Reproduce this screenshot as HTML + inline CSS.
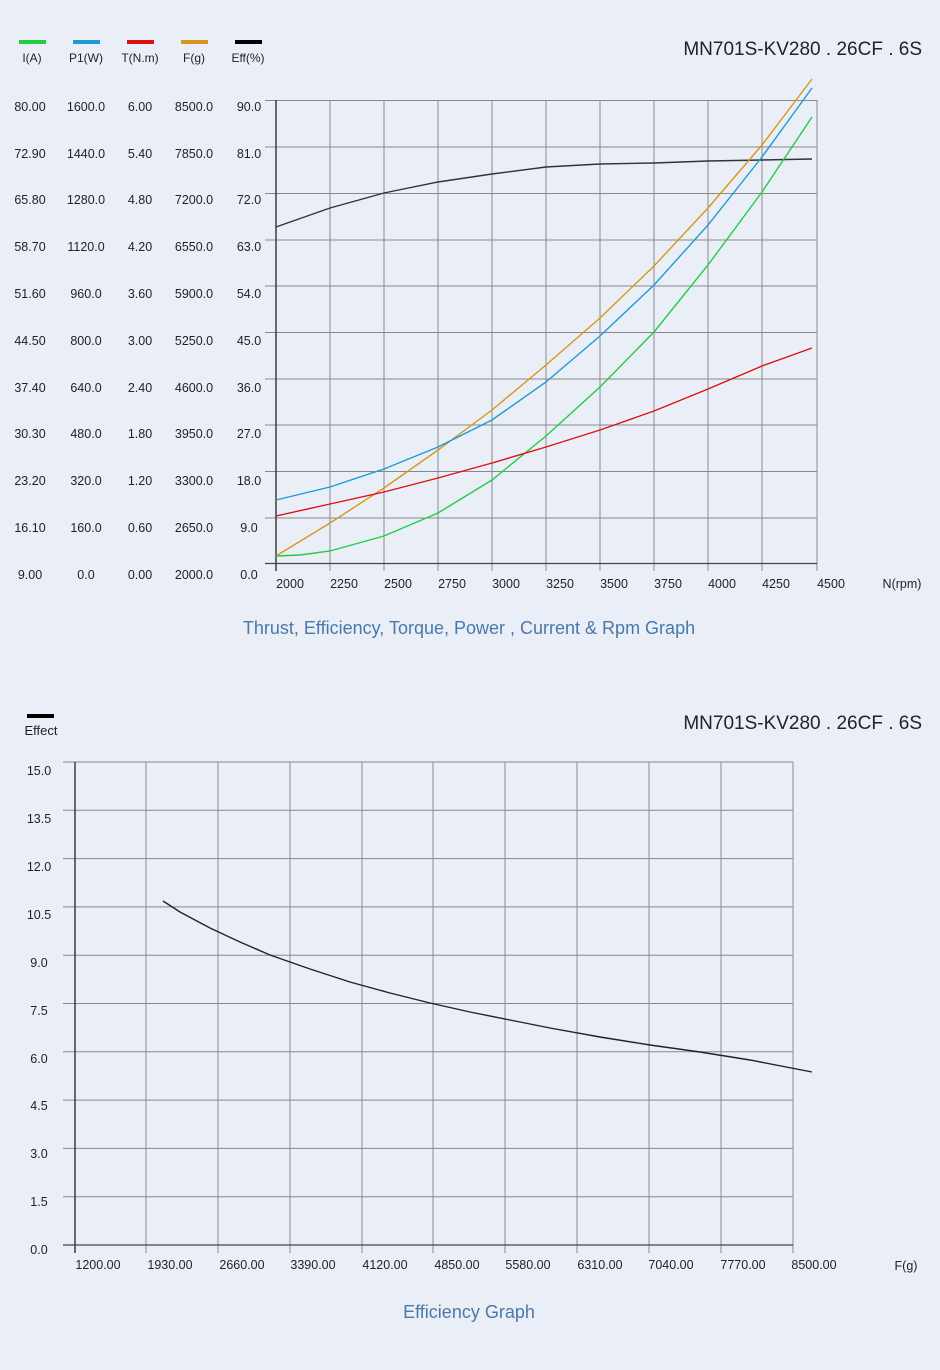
<!DOCTYPE html>
<html><head><meta charset="utf-8"><style>
html,body{margin:0;padding:0;background:#eaeff7;}
svg{display:block;font-family:"Liberation Sans",sans-serif;}
</style></head><body>
<svg width="940" height="1370" viewBox="0 0 940 1370" xmlns="http://www.w3.org/2000/svg">
<rect width="940" height="1370" fill="#eaeff7"/>
<!-- legend top -->
<rect x="19" y="40" width="27" height="4" fill="#22cc44"/>
<rect x="73" y="40" width="27" height="4" fill="#1e9ad6"/>
<rect x="127" y="40" width="27" height="4" fill="#dd1111"/>
<rect x="181" y="40" width="27" height="4" fill="#d9961a"/>
<rect x="235" y="40" width="27" height="4" fill="#000"/>
<g font-size="12" fill="#222" text-anchor="middle">
<text x="32" y="62">I(A)</text><text x="86" y="62">P1(W)</text><text x="140" y="62">T(N.m)</text><text x="194" y="62">F(g)</text><text x="248" y="62">Eff(%)</text>
</g>
<text x="922" y="55" font-size="19" fill="#222" text-anchor="end">MN701S-KV280 . 26CF . 6S</text>
<!-- grid top -->
<g stroke="#888" stroke-width="1">
<line x1="265" y1="100.5" x2="817" y2="100.5"/><line x1="265" y1="147" x2="817" y2="147"/><line x1="265" y1="193.5" x2="817" y2="193.5"/><line x1="265" y1="240" x2="817" y2="240"/><line x1="265" y1="286" x2="817" y2="286"/><line x1="265" y1="332.5" x2="817" y2="332.5"/><line x1="265" y1="379" x2="817" y2="379"/><line x1="265" y1="425" x2="817" y2="425"/><line x1="265" y1="471.5" x2="817" y2="471.5"/><line x1="265" y1="518" x2="817" y2="518"/>
<line x1="330" y1="100" x2="330" y2="571"/><line x1="384" y1="100" x2="384" y2="571"/><line x1="438" y1="100" x2="438" y2="571"/><line x1="492" y1="100" x2="492" y2="571"/><line x1="546" y1="100" x2="546" y2="571"/><line x1="600" y1="100" x2="600" y2="571"/><line x1="654" y1="100" x2="654" y2="571"/><line x1="708" y1="100" x2="708" y2="571"/><line x1="762" y1="100" x2="762" y2="571"/><line x1="817" y1="100" x2="817" y2="571"/>
</g>
<line x1="276" y1="100" x2="276" y2="571" stroke="#222" stroke-width="1.3"/>
<line x1="265" y1="563.5" x2="817" y2="563.5" stroke="#444" stroke-width="1.2"/>
<g font-size="12.5" fill="#222" text-anchor="middle">
<text x="30" y="111">80.00</text><text x="86" y="111">1600.0</text><text x="140" y="111">6.00</text><text x="194" y="111">8500.0</text><text x="249" y="111">90.0</text>
<text x="30" y="158">72.90</text><text x="86" y="158">1440.0</text><text x="140" y="158">5.40</text><text x="194" y="158">7850.0</text><text x="249" y="158">81.0</text>
<text x="30" y="204">65.80</text><text x="86" y="204">1280.0</text><text x="140" y="204">4.80</text><text x="194" y="204">7200.0</text><text x="249" y="204">72.0</text>
<text x="30" y="251">58.70</text><text x="86" y="251">1120.0</text><text x="140" y="251">4.20</text><text x="194" y="251">6550.0</text><text x="249" y="251">63.0</text>
<text x="30" y="298">51.60</text><text x="86" y="298">960.0</text><text x="140" y="298">3.60</text><text x="194" y="298">5900.0</text><text x="249" y="298">54.0</text>
<text x="30" y="345">44.50</text><text x="86" y="345">800.0</text><text x="140" y="345">3.00</text><text x="194" y="345">5250.0</text><text x="249" y="345">45.0</text>
<text x="30" y="392">37.40</text><text x="86" y="392">640.0</text><text x="140" y="392">2.40</text><text x="194" y="392">4600.0</text><text x="249" y="392">36.0</text>
<text x="30" y="438">30.30</text><text x="86" y="438">480.0</text><text x="140" y="438">1.80</text><text x="194" y="438">3950.0</text><text x="249" y="438">27.0</text>
<text x="30" y="485">23.20</text><text x="86" y="485">320.0</text><text x="140" y="485">1.20</text><text x="194" y="485">3300.0</text><text x="249" y="485">18.0</text>
<text x="30" y="532">16.10</text><text x="86" y="532">160.0</text><text x="140" y="532">0.60</text><text x="194" y="532">2650.0</text><text x="249" y="532">9.0</text>
<text x="30" y="579">9.00</text><text x="86" y="579">0.0</text><text x="140" y="579">0.00</text><text x="194" y="579">2000.0</text><text x="249" y="579">0.0</text>
<text x="290" y="588">2000</text><text x="344" y="588">2250</text><text x="398" y="588">2500</text><text x="452" y="588">2750</text><text x="506" y="588">3000</text><text x="560" y="588">3250</text><text x="614" y="588">3500</text><text x="668" y="588">3750</text><text x="722" y="588">4000</text><text x="776" y="588">4250</text><text x="831" y="588">4500</text>
<text x="902" y="588">N(rpm)</text>
</g>
<g fill="none" stroke-width="1.4">
<polyline stroke="#333" points="276,227 330,208 384,193 438,182 492,174 546,167 600,164 654,163 708,161 762,160 812,159"/>
<polyline stroke="#d9961a" points="276,556 330,523 384,488 438,450 492,410 546,365 600,318 654,266 708,208 762,145 812,79"/>
<polyline stroke="#1e9ad6" points="276,500 330,487 384,469 438,447 492,420 546,382 600,336 654,285 708,225 762,157 812,88"/>
<polyline stroke="#22cc44" points="276,556 300,555 330,551 384,536 438,513 492,480 546,436 600,387 654,332 708,265 762,192 812,117"/>
<polyline stroke="#dd1111" points="276,516 330,504 384,492 438,478 492,463 546,447 600,430 654,411 708,389 762,366 812,348"/>
</g>
<text x="469" y="634" font-size="18" fill="#4a78a8" text-anchor="middle">Thrust, Efficiency, Torque, Power , Current &amp; Rpm Graph</text>
<!-- bottom chart -->
<rect x="27" y="714" width="27" height="4" fill="#000"/>
<text x="41" y="735" font-size="13" fill="#222" text-anchor="middle">Effect</text>
<text x="922" y="729" font-size="19" fill="#222" text-anchor="end">MN701S-KV280 . 26CF . 6S</text>
<g stroke="#888" stroke-width="1">
<line x1="63" y1="762" x2="793" y2="762"/><line x1="63" y1="810.3" x2="793" y2="810.3"/><line x1="63" y1="858.6" x2="793" y2="858.6"/><line x1="63" y1="906.9" x2="793" y2="906.9"/><line x1="63" y1="955.2" x2="793" y2="955.2"/><line x1="63" y1="1003.5" x2="793" y2="1003.5"/><line x1="63" y1="1051.8" x2="793" y2="1051.8"/><line x1="63" y1="1100.1" x2="793" y2="1100.1"/><line x1="63" y1="1148.4" x2="793" y2="1148.4"/><line x1="63" y1="1196.7" x2="793" y2="1196.7"/>
<line x1="146" y1="762" x2="146" y2="1253"/><line x1="218" y1="762" x2="218" y2="1253"/><line x1="290" y1="762" x2="290" y2="1253"/><line x1="362" y1="762" x2="362" y2="1253"/><line x1="433" y1="762" x2="433" y2="1253"/><line x1="505" y1="762" x2="505" y2="1253"/><line x1="577" y1="762" x2="577" y2="1253"/><line x1="649" y1="762" x2="649" y2="1253"/><line x1="721" y1="762" x2="721" y2="1253"/><line x1="793" y1="762" x2="793" y2="1253"/>
</g>
<line x1="75" y1="762" x2="75" y2="1253" stroke="#222" stroke-width="1.3"/>
<line x1="63" y1="1245" x2="793" y2="1245" stroke="#444" stroke-width="1.2"/>
<g font-size="12.5" fill="#222" text-anchor="middle">
<text x="39" y="775">15.0</text><text x="39" y="823">13.5</text><text x="39" y="871">12.0</text><text x="39" y="919">10.5</text><text x="39" y="967">9.0</text><text x="39" y="1015">7.5</text><text x="39" y="1063">6.0</text><text x="39" y="1110">4.5</text><text x="39" y="1158">3.0</text><text x="39" y="1206">1.5</text><text x="39" y="1254">0.0</text>
<text x="98" y="1269">1200.00</text><text x="170" y="1269">1930.00</text><text x="242" y="1269">2660.00</text><text x="313" y="1269">3390.00</text><text x="385" y="1269">4120.00</text><text x="457" y="1269">4850.00</text><text x="528" y="1269">5580.00</text><text x="600" y="1269">6310.00</text><text x="671" y="1269">7040.00</text><text x="743" y="1269">7770.00</text><text x="814" y="1269">8500.00</text>
<text x="906" y="1270">F(g)</text>
</g>
<polyline fill="none" stroke="#222" stroke-width="1.4" points="163,901 180,912 210,928 240,942 270,955 310,969 350,982 390,993 430,1003 470,1012 510,1020 550,1028 600,1037 650,1045 700,1052 750,1060 812,1072"/>
<text x="469" y="1318" font-size="18" fill="#4a78a8" text-anchor="middle">Efficiency Graph</text>
</svg>
</body></html>
